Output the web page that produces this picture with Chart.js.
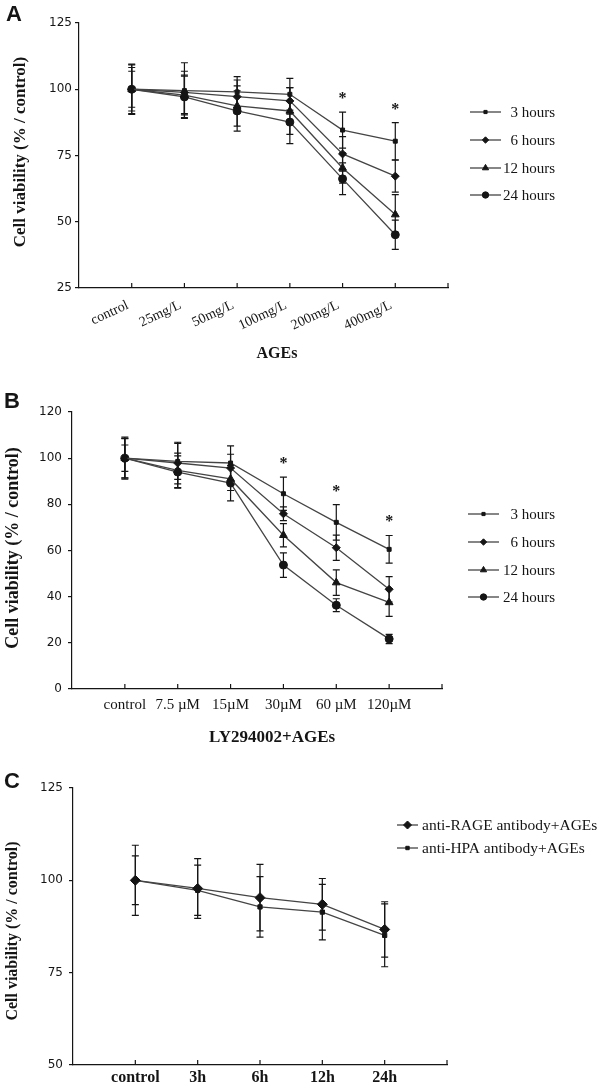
<!DOCTYPE html>
<html>
<head>
<meta charset="utf-8">
<script src="https://cdn.jsdelivr.net/npm/chart.js@4.4.0/dist/chart.umd.min.js"></script>
<style>
  html, body { margin: 0; padding: 0; background: #fff; }
  #wrap { position: relative; width: 600px; height: 1086px; overflow: hidden; }
  canvas { position: absolute; left: 0; }
</style>
</head>
<body>
<div id="wrap">
  <canvas id="chartA" width="600" height="370" style="top:0px"></canvas>
  <canvas id="chartB" width="600" height="380" style="top:370px"></canvas>
  <canvas id="chartC" width="600" height="336" style="top:750px"></canvas>
</div>
<script>
// ---- panel A : AGEs dose ----
const catA = ['control', '25mg/L', '50mg/L', '100mg/L', '200mg/L', '400mg/L'];
const hourNames = ['3 hours', '6 hours', '12 hours', '24 hours'];
const a3h = [100, 99.5, 99, 98.1, 84.6, 80.4];
const a6h = [100, 98.8, 97.2, 95.6, 75.6, 67.2];
const a12h = [100, 97.8, 93.7, 91.8, 70.3, 52.7];
const a24h = [100, 97.1, 91.8, 87.6, 66.2, 45.1];
const a3hErr = [9.2, 10.5, 5.8, 6, 6.8, 7];
const a6hErr = [8.2, 8, 6.3, 5, 6.5, 6];
const a12hErr = [6.8, 7.5, 7.6, 8.8, 5.7, 7.5];
const a24hErr = [9.5, 7.8, 7.6, 8.1, 6, 5.5];
const aTicks = [25, 50, 75, 100, 125];
const aStars = [4, 5];

// ---- panel B : LY294002 + AGEs ----
const catB = ['control', '7.5 \u00b5M', '15\u00b5M', '30\u00b5M', '60 \u00b5M', '120\u00b5M'];
const b3h = [100, 98.6, 97.9, 84.6, 72.2, 60.5];
const b6h = [100, 97.9, 95.7, 75.9, 61.2, 43.2];
const b12h = [100, 94.7, 91, 66.6, 46.1, 37.5];
const b24h = [100, 94, 89.2, 53.7, 36.3, 21.7];
const b3hErr = [9.1, 7.8, 7.4, 7.2, 7.7, 6];
const b6hErr = [8.5, 9, 6, 3, 5.5, 5.5];
const b12hErr = [5.7, 7.5, 5, 5, 5.5, 6];
const b24hErr = [8.6, 7, 7.7, 5.3, 2.8, 2];
const bTicks = [0, 20, 40, 60, 80, 100, 120];
const bStars = [3, 4, 5];

// ---- panel C : antibodies ----
const catC = ['control', '3h', '6h', '12h', '24h'];
const cNames = ['anti-RAGE antibody+AGEs', 'anti-HPA antibody+AGEs'];
const cRage = [100, 97.8, 95.3, 93.5, 86.7];
const cHpa = [100, 97.3, 92.8, 91.4, 85.1];
const cRageErr = [9.5, 8.1, 9, 7, 7.5];
const cHpaErr = [6.6, 6.8, 8.2, 7.5, 8.5];
const cTicks = [50, 75, 100, 125];

const SERIF = "'Liberation Serif', 'Times New Roman', serif";
const SANS = "'DejaVu Sans', Verdana, sans-serif";
const LINE = '#444444';
const INK = '#151515';

function series(vals, errs, style, radius) {
  return {
    data: vals.map((v, i) => ({ x: i, y: v })),
    errors: errs,
    borderColor: LINE,
    borderWidth: 1.3,
    pointStyle: style,
    pointRadius: radius,
    pointBackgroundColor: INK,
    pointBorderColor: INK,
    pointBorderWidth: 1,
    tension: 0
  };
}

function text(ctx, s, x, y, font, align, rot, base) {
  ctx.save();
  ctx.translate(x, y);
  if (rot) ctx.rotate(rot);
  ctx.font = font;
  ctx.fillStyle = INK;
  ctx.textAlign = align || 'left';
  ctx.textBaseline = base || 'alphabetic';
  ctx.fillText(s, 0, 0);
  ctx.restore();
}

const panelPlugin = {
  id: 'panel',
  beforeDatasetsDraw(chart) {
    const ctx = chart.ctx, ys = chart.scales.y;
    ctx.save();
    ctx.strokeStyle = INK;
    ctx.lineWidth = 1.2;
    chart.data.datasets.forEach((ds, di) => {
      const meta = chart.getDatasetMeta(di);
      ds.data.forEach((pt, i) => {
        const e = ds.errors[i];
        const x = meta.data[i].x;
        const t = ys.getPixelForValue(pt.y + e), b = ys.getPixelForValue(pt.y - e);
        ctx.beginPath();
        ctx.moveTo(x, t); ctx.lineTo(x, b);
        ctx.moveTo(x - 3.5, t); ctx.lineTo(x + 3.5, t);
        ctx.moveTo(x - 3.5, b); ctx.lineTo(x + 3.5, b);
        ctx.stroke();
      });
    });
    ctx.restore();
  },
  afterDraw(chart, args, o) {
    const ctx = chart.ctx, xs = chart.scales.x, ys = chart.scales.y;
    // inward ticks on the x axis
    ctx.save();
    ctx.strokeStyle = INK;
    ctx.lineWidth = 1.2;
    xs.ticks.forEach(t => {
      if (t.value <= xs.min) return;
      const px = xs.getPixelForValue(t.value);
      ctx.beginPath();
      ctx.moveTo(px, xs.top);
      ctx.lineTo(px, xs.top - 5);
      ctx.stroke();
    });
    ctx.restore();

    // significance stars above the highest error bar
    (o.stars || []).forEach(i => {
      let top = -Infinity;
      chart.data.datasets.forEach(ds => { top = Math.max(top, ds.data[i].y + ds.errors[i]); });
      const px = xs.getPixelForValue(i), py = ys.getPixelForValue(top) - 17;
      text(ctx, '*', px, py + 8, 'bold 16px ' + SERIF, 'center');
    });

    // legend
    const lg = o.legend;
    chart.data.datasets.forEach((ds, di) => {
      const y = lg.rows[di];
      ctx.save();
      ctx.strokeStyle = LINE;
      ctx.lineWidth = 1.3;
      ctx.beginPath();
      ctx.moveTo(lg.x0, y); ctx.lineTo(lg.x1, y);
      ctx.stroke();
      ctx.fillStyle = INK;
      ctx.strokeStyle = INK;
      ctx.lineWidth = 1;
      Chart.helpers.drawPoint(ctx, { pointStyle: ds.pointStyle, radius: ds.pointRadius * 0.8, rotation: 0, borderWidth: 1 },
        (lg.x0 + lg.x1) / 2, y);
      ctx.restore();
      text(ctx, lg.names[di], lg.tx, y + 5, lg.font, lg.align);
    });

    // panel letter and axis titles
    text(ctx, o.letter.s, o.letter.x, o.letter.y, 'bold 22px "Liberation Sans", Arial, sans-serif', 'left');
    const yt = o.yTitle;
    text(ctx, 'Cell viability (% / control)', yt.x, yt.y, yt.font, 'center', -Math.PI / 2, 'middle');
    if (o.xTitle) text(ctx, o.xTitle.s, o.xTitle.x, o.xTitle.y, o.xTitle.font, 'center');
  }
};

function makeChart(id, box, cats, yTicks, xOpts, datasets, panelOpts) {
  const canvas = document.getElementById(id);
  const H = canvas.height;
  return new Chart(canvas, {
    type: 'line',
    data: { datasets: datasets },
    plugins: [panelPlugin],
    options: {
      responsive: false,
      animation: false,
      layout: { padding: { left: 0, top: box.top, right: 600 - box.right, bottom: 0 } },
      plugins: { legend: { display: false }, tooltip: { enabled: false }, panel: panelOpts },
      scales: {
        x: {
          type: 'linear',
          min: -1,
          max: cats.length,
          afterBuildTicks: s => { s.ticks = []; for (let v = -1; v <= cats.length; v++) s.ticks.push({ value: v }); },
          afterFit: s => { s.height = H - box.bottom; },
          grid: { display: false, drawTicks: false, tickLength: 0 },
          border: { display: true, color: INK, width: 1.2 },
          ticks: {
            autoSkip: false,
            minRotation: xOpts.rot,
            maxRotation: xOpts.rot,
            padding: xOpts.pad,
            labelOffset: xOpts.shift || 0,
            color: INK,
            font: xOpts.font,
            callback: v => (cats[v] !== undefined ? cats[v] : '')
          }
        },
        y: {
          min: yTicks[0],
          max: yTicks[yTicks.length - 1],
          afterBuildTicks: s => { s.ticks = yTicks.map(v => ({ value: v })); },
          afterFit: s => { s.width = box.left; },
          grid: { display: true, drawOnChartArea: false, drawTicks: true, tickLength: 4, color: INK, lineWidth: 1.2 },
          border: { display: true, color: INK, width: 1.2 },
          ticks: { padding: box.ypad, color: INK, font: { family: SANS, size: 12 } }
        }
      }
    }
  });
}

makeChart('chartA', { left: 79, top: 23, right: 448, bottom: 288, ypad: 3 }, catA, aTicks,
  { rot: 25, pad: 9, shift: -4, font: { family: SERIF, size: 14 } },
  [series(a3h, a3hErr, 'rect', 2.8), series(a6h, a6hErr, 'rectRot', 4),
   series(a12h, a12hErr, 'triangle', 4.5), series(a24h, a24hErr, 'circle', 4)],
  {
    stars: aStars,
    legend: { rows: [112, 140, 168, 195], x0: 470, x1: 501, tx: 555, align: 'right', font: '15px ' + SERIF, names: hourNames },
    letter: { s: 'A', x: 6, y: 21 },
    yTitle: { x: 21, y: 152, font: 'bold 17px ' + SERIF },
    xTitle: { s: 'AGEs', x: 277, y: 358, font: 'bold 16px ' + SERIF }
  });

makeChart('chartB', { left: 72, top: 42, right: 442, bottom: 319, ypad: 6 }, catB, bTicks,
  { rot: 0, pad: 7, font: { family: SERIF, size: 15 } },
  [series(b3h, b3hErr, 'rect', 2.8), series(b6h, b6hErr, 'rectRot', 4),
   series(b12h, b12hErr, 'triangle', 4.5), series(b24h, b24hErr, 'circle', 4)],
  {
    stars: bStars,
    legend: { rows: [144, 172, 200, 227], x0: 468, x1: 499, tx: 555, align: 'right', font: '15px ' + SERIF, names: hourNames },
    letter: { s: 'B', x: 4, y: 38 },
    yTitle: { x: 13, y: 178, font: 'bold 18px ' + SERIF },
    xTitle: { s: 'LY294002+AGEs', x: 272, y: 372, font: 'bold 17px ' + SERIF }
  });

makeChart('chartC', { left: 73, top: 38, right: 447, bottom: 315, ypad: 6 }, catC, cTicks,
  { rot: 0, pad: 3, font: { family: SERIF, size: 16, weight: 'bold' } },
  [series(cRage, cRageErr, 'rectRot', 5), series(cHpa, cHpaErr, 'rect', 3)],
  {
    stars: [],
    legend: { rows: [75, 98], x0: 397, x1: 418, tx: 422, align: 'left', font: '15.5px ' + SERIF, names: cNames },
    letter: { s: 'C', x: 4, y: 38 },
    yTitle: { x: 13, y: 181, font: 'bold 16px ' + SERIF }
  });
</script>
</body>
</html>
